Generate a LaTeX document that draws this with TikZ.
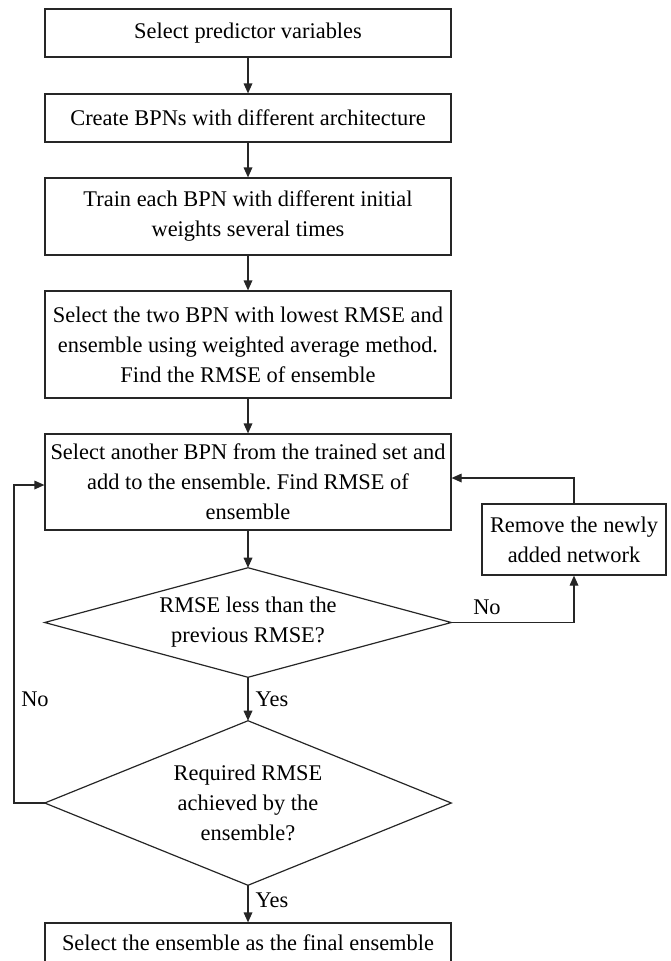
\documentclass[tikz,border=0pt]{standalone}
\usepackage{fontspec}
\setmainfont{Liberation Serif}
\usetikzlibrary{arrows.meta}
\frenchspacing
\begin{document}
\begin{tikzpicture}[x=0.75pt,y=-0.75pt,
  font=\fontsize{16.8}{22.5}\selectfont,
  line/.style={draw=black!85, line width=0.9pt},
  flow/.style={line, -{Triangle[length=7.5pt,width=6.5pt]}},
  stepbox/.style={line, rectangle, inner sep=0pt, align=center, minimum width=304.5pt},
  decision/.style={rectangle, inner sep=0pt, align=center, minimum width=304.5pt},
  lbl/.style={inner sep=0pt}]
\useasboundingbox (0,0) rectangle (671,961);

% process steps
\node[stepbox, minimum height=36pt] (b1) at (248,33) {Select predictor variables};
\node[stepbox, minimum height=36pt] (b2) at (248,118) {Create BPNs with different architecture};
\node[stepbox, minimum height=57.75pt] (b3) at (248,216.5) {Train each BPN with different initial\\weights several times};
\node[stepbox, minimum height=80.25pt] (b4) at (248,344.5) {Select the two BPN with lowest RMSE and\\ensemble using weighted average method.\\Find the RMSE of ensemble};
\node[stepbox, minimum height=72pt] (b5) at (248,482) {Select another BPN from the trained set and\\add to the ensemble. Find RMSE of\\ensemble};
\node[stepbox, minimum width=138pt, minimum height=53.25pt] (rm) at (574,539.5) {Remove the newly\\added network};

% decisions: text node, diamond drawn through the side midpoints
\node[decision, minimum height=81.75pt] (d1) at (248,622.5) {RMSE less than the\\previous RMSE?};
\draw[line] (d1.north) -- (d1.east) -- (d1.south) -- (d1.west) -- cycle;
\node[decision, minimum height=123pt] (d2) at (248,803) {Required RMSE\\achieved by the\\ensemble?};
\draw[line] (d2.north) -- (d2.east) -- (d2.south) -- (d2.west) -- cycle;

\node[stepbox, minimum height=30pt] (b6) at (248,943) {Select the ensemble as the final ensemble};

% main flow
\draw[flow] (b1) -- (b2);
\draw[flow] (b2) -- (b3);
\draw[flow] (b3) -- (b4);
\draw[flow] (b4) -- (b5);
\draw[flow] (b5) -- (d1.north);
\draw[flow] (d1.south) -- (d2.north);
\draw[flow] (d2.south) -- (b6);

% loops
\draw[flow] (d1.east) -| (rm.south);
\draw[flow] (rm.north) |- ([yshift=3pt]b5.east);
\coordinate (lp) at (14,803);
\draw[flow] (d2.west) -- (lp) |- ([yshift=-2.25pt]b5.west);

% branch labels
\node[lbl] (no1) at (487,607) {No};
\node[lbl] (yes1) at (272,699) {Yes};
\node[lbl] (no2) at (35,699) {No};
\node[lbl] (yes2) at (272,900) {Yes};
\end{tikzpicture}
\end{document}
